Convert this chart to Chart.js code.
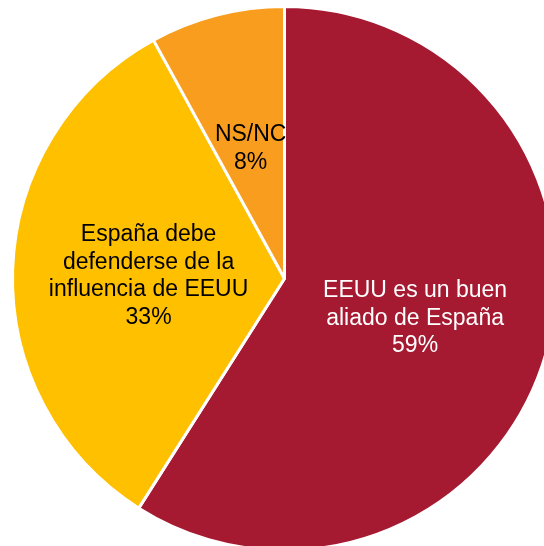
<!DOCTYPE html>
<html>
<head>
<meta charset="utf-8">
<script src="https://cdn.jsdelivr.net/npm/chart.js@4"></script>
<style>
  html, body { margin: 0; padding: 0; background: #fff; overflow: hidden; width: 544px; height: 546px; }
  #wrap { position: absolute; left: 0; top: 0; width: 569px; height: 557px; }
</style>
</head>
<body>
<div id="wrap"><canvas id="pieChart"></canvas></div>
<script>
const categories = ['EEUU es un buen aliado de España', 'España debe defenderse de la influencia de EEUU', 'NS/NC'];
const labelLines = [
    ['EEUU es un buen', 'aliado de España'],
    ['España debe', 'defenderse de la', 'influencia de EEUU'],
    ['NS/NC']
];
const values = [59, 33, 8];
const sliceColors = ['#A51A31', '#FFC000', '#F99D1E'];
const textColors = ['#ffffff', '#000000', '#000000'];

/* ── labels inside slices ─────────────────────────────── */
const sliceLabels = {
    id: 'sliceLabels',
    afterDatasetsDraw(chart) {
        const ctx = chart.ctx;
        const meta = chart.getDatasetMeta(0);
        ctx.save();
        ctx.font = '23px "Liberation Sans", Arial, sans-serif';
        ctx.textAlign = 'center';
        ctx.textBaseline = 'alphabetic';
        meta.data.forEach((arc, i) => {
            const pos = arc.tooltipPosition();
            const lines = labelLines[i].concat([values[i] + '%']);
            const lh = 27.5;
            const first = pos.y + 8.3 - (lines.length - 1) * lh / 2;
            ctx.fillStyle = textColors[i];
            lines.forEach((t, k) => ctx.fillText(t, pos.x, first + k * lh));
        });
        ctx.restore();
    }
};

new Chart(document.getElementById('pieChart'), {
    type: 'pie',
    data: {
        labels: categories,
        datasets: [{
            data: values,
            backgroundColor: sliceColors,
            borderColor: '#ffffff',
            borderWidth: 3,
            radius: 272
        }]
    },
    options: {
        responsive: true,
        maintainAspectRatio: false,
        animation: false,
        events: [],
        plugins: {
            legend: { display: false },
            tooltip: { enabled: false }
        }
    },
    plugins: [sliceLabels]
});
</script>
</body>
</html>
